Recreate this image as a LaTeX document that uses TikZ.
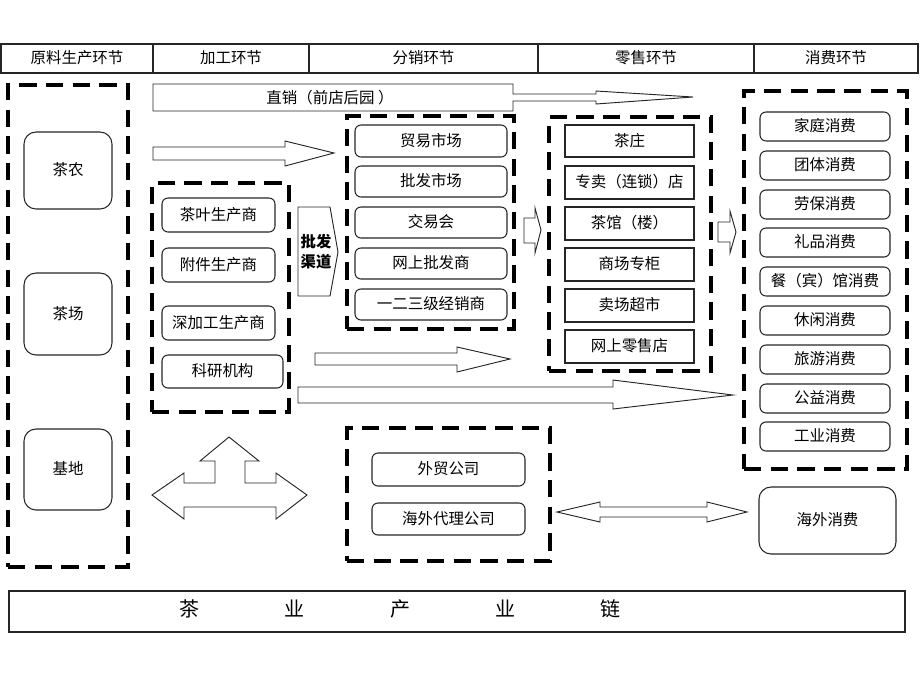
\documentclass[tikz,border=0pt]{standalone}
\usepackage{fontspec}
\setmainfont{Noto Sans CJK SC}
\newcommand{\bx}[7]{\node[#1, minimum width={(#5-#3)*0.75pt}, minimum height={(#6-#4)*0.75pt}] (#2) at ({(#3+#5)/2},{(#4+#6)/2}) {#7};}
\begin{document}
\begin{tikzpicture}[x=0.75pt,y=-0.75pt,
  every node/.style={font=\fontsize{11.6}{14}\selectfont, inner sep=0pt, outer sep=0pt, text height=0.88em, text depth=0.12em},
  rbox/.style={draw=black!85, line width=0.8pt, rounded corners=4.5pt, fill=white},
  bigr/.style={draw=black!85, line width=0.8pt, rounded corners=9pt, fill=white},
  sbox/.style={draw=black!85, line width=0.9pt, fill=white},
  grp/.style={draw=black, line width=2.3pt, dash pattern=on 13pt off 7pt},
  hcell/.style={draw=black!85, line width=0.9pt},
  barrow/.style={draw=black!85, line width=0.7pt, fill=white, line join=miter}]
\useasboundingbox (0,0) rectangle (920,690);

% header
\bx{hcell}{h1}{1}{44}{153}{73}{原料生产环节}
\bx{hcell}{h2}{153}{44}{309}{73}{加工环节}
\bx{hcell}{h3}{309}{44}{538}{73}{分销环节}
\bx{hcell}{h4}{538}{44}{754}{73}{零售环节}
\bx{hcell}{h5}{754}{44}{918}{73}{消费环节}

% group boxes
\bx{grp}{g1}{8}{85}{128}{567}{}
\bx{grp}{g2}{152}{183}{289}{412}{}
\bx{grp}{g3}{347}{116}{514}{329}{}
\bx{grp}{g4}{549}{117}{711}{371}{}
\bx{grp}{g5}{744}{91}{907}{469}{}
\bx{grp}{g6}{347}{428}{550}{561}{}

% raw material
\bx{bigr}{p1}{24}{132}{112}{209}{茶农}
\bx{bigr}{p2}{24}{273}{112}{355}{茶场}
\bx{bigr}{p3}{24}{429}{112}{510}{基地}

% processing
\bx{rbox}{m1}{162}{198}{275}{232}{茶叶生产商}
\bx{rbox}{m2}{162}{248}{275}{282}{附件生产商}
\bx{rbox}{m3}{162}{306}{275}{340}{深加工生产商}
\bx{rbox}{m4}{162}{355}{283}{388}{科研机构}

% distribution
\bx{rbox}{d1}{355}{125}{507}{157}{贸易市场}
\bx{rbox}{d2}{355}{166}{507}{197}{批发市场}
\bx{rbox}{d3}{355}{207}{507}{238}{交易会}
\bx{rbox}{d4}{355}{248}{507}{279}{网上批发商}
\bx{rbox}{d5}{355}{289}{507}{320}{一二三级经销商}

% retail
\bx{sbox}{r1}{565}{125}{694}{157}{茶庄}
\bx{sbox}{r2}{565}{166}{694}{199}{专卖（连锁）店}
\bx{sbox}{r3}{565}{207}{694}{240}{茶馆（楼）}
\bx{sbox}{r4}{565}{248}{694}{281}{商场专柜}
\bx{sbox}{r5}{565}{289}{694}{322}{卖场超市}
\bx{sbox}{r6}{565}{330}{694}{363}{网上零售店}

% consumption
\bx{rbox}{c1}{760}{112}{890}{141}{家庭消费}
\bx{rbox}{c2}{760}{151}{890}{180}{团体消费}
\bx{rbox}{c3}{760}{190}{890}{219}{劳保消费}
\bx{rbox}{c4}{760}{228}{890}{257}{礼品消费}
\bx{rbox}{c5}{760}{267}{890}{296}{餐（宾）馆消费}
\bx{rbox}{c6}{760}{306}{890}{335}{休闲消费}
\bx{rbox}{c7}{760}{345}{890}{374}{旅游消费}
\bx{rbox}{c8}{760}{384}{890}{413}{公益消费}
\bx{rbox}{c9}{760}{422}{890}{451}{工业消费}
\bx{bigr}{ov}{759}{487}{896}{554}{海外消费}

% foreign trade
\bx{rbox}{f1}{372}{453}{525}{486}{外贸公司}
\bx{rbox}{f2}{372}{503}{525}{535}{海外代理公司}

% block arrows
\draw[barrow] (153,84) -- (513,84) -- (513,94) -- (596,94) -- (596,91) -- (693,97)
  -- (596,104) -- (596,101) -- (513,101) -- (513,111) -- (153,111) -- cycle;
\node (zx) at (330,98) {直销（前店后园 ）};

\draw[barrow] (153,147) -- (285,147) -- (285,141) -- (334,153) -- (285,166)
  -- (285,160) -- (153,160) -- cycle;

\draw[barrow] (315,353) -- (457,353) -- (457,347) -- (510,359) -- (457,372)
  -- (457,365) -- (315,365) -- cycle;

\draw[barrow] (298,387) -- (613,387) -- (613,380) -- (733,395) -- (613,409)
  -- (613,403) -- (298,403) -- cycle;

\draw[barrow] (524,218) -- (535,218) -- (535,208) -- (541,230) -- (535,253)
  -- (535,243) -- (524,243) -- cycle;

\draw[barrow] (718,222) -- (730,222) -- (730,211) -- (736,232) -- (730,253)
  -- (730,242) -- (718,242) -- cycle;

% wholesale channel pentagon
\draw[barrow] (298,207) -- (330,207) -- (338,252) -- (330,296) -- (298,296) -- cycle;
\node[align=center, font=\fontsize{11.5}{15}\selectfont\bfseries, text height=, text depth=] (pf) at (316,252) {批发\\渠道};

% three-way arrow
\draw[barrow] (152,495) -- (184,473) -- (184,483) -- (215,483) -- (215,461)
  -- (200,461) -- (229,437) -- (259,461) -- (245,461) -- (245,483) -- (276,483)
  -- (276,473) -- (307,495) -- (276,519) -- (276,507) -- (184,507) -- (184,519) -- cycle;

% double arrow
\draw[barrow] (557,512) -- (600,502) -- (600,507) -- (707,507) -- (707,502)
  -- (747,512) -- (707,522) -- (707,517) -- (600,517) -- (600,522) -- cycle;

% banner
\bx{hcell}{bn}{9}{591}{905}{632}{}
\node[font=\fontsize{15}{17}\selectfont] (bt) at (400,611)
  {茶\hspace{64pt}业\hspace{64pt}产\hspace{64pt}业\hspace{64pt}链};
\end{tikzpicture}
\end{document}
